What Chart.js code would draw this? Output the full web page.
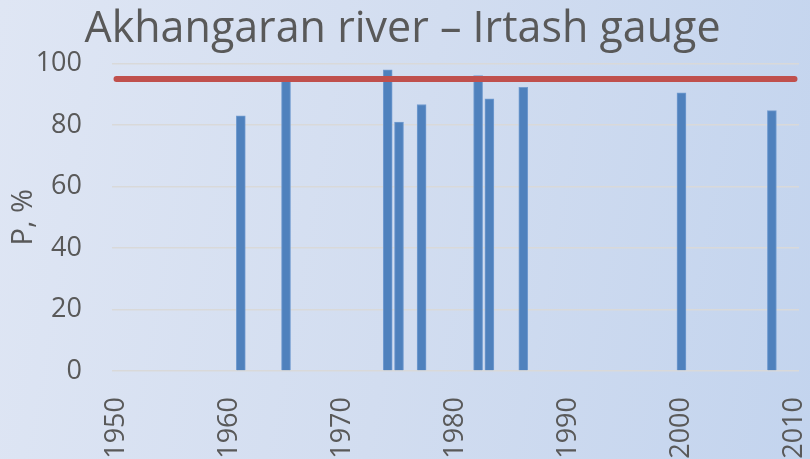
<!DOCTYPE html>
<html>
<head>
<meta charset="utf-8">
<script src="https://cdn.jsdelivr.net/npm/chart.js@4.4.1/dist/chart.umd.min.js"></script>
<style>
    html, body { margin: 0; padding: 0; }
    #box {
        width: 810px;
        height: 459px;
        background: linear-gradient(100deg, #dfe6f4 0%, #d2ddf0 50%, #c3d4ee 100%);
    }
</style>
</head>
<body>
<div id="box"><canvas id="chart"></canvas></div>
<script>
// data
const years = [1961, 1965, 1974, 1975, 1977, 1982, 1983, 1986, 2000, 2008];
const pValues = [83, 94.5, 98, 81, 86.7, 96.1, 88.5, 92.3, 90.5, 84.7];
const limitYears = [1950, 2010];
const limitValues = [95, 95];
const xTicks = [1950, 1960, 1970, 1980, 1990, 2000, 2010];
const yTicks = [0, 20, 40, 60, 80, 100];

const grey = "#595959";
const tickFont = { family: "Open Sans", size: 27 };

let chart = new Chart(document.getElementById("chart"), {
    type: "bar",
    data: {
        datasets: [{
            type: "line",
            label: "95%",
            data: limitYears.map((y, i) => ({ x: y, y: limitValues[i] })),
            borderColor: "#c0504d",
            borderWidth: 6,
            borderCapStyle: "round",
            pointRadius: 0,
            order: 0
        }, {
            type: "bar",
            label: "P",
            data: years.map((y, i) => ({ x: y, y: pValues[i] })),
            backgroundColor: "#4f81bd",
            borderColor: "#739cd0",
            borderWidth: 1,
            barThickness: 9,
            order: 1
        }]
    },
    options: {
        responsive: true,
        maintainAspectRatio: false,
        animation: false,
        layout: { padding: { left: 6, right: 11, top: 0, bottom: 0 } },
        plugins: {
            legend: { display: false },
            tooltip: { enabled: false },
            title: {
                display: true,
                text: "Akhangaran river – Irtash gauge",
                color: grey,
                font: { family: "Open Sans", size: 43, weight: "normal" },
                padding: { top: 4, bottom: 8 }
            }
        },
        scales: {
            x: {
                type: "linear",
                min: 1949.6,
                max: 2010.4,
                offset: false,
                grid: { display: false, offset: false },
                border: { display: false },
                afterBuildTicks: scale => {
                    scale.ticks = xTicks.map(v => ({ value: v }));
                },
                afterFit: scale => {
                    scale.height = 88;
                    scale.paddingLeft = 0;
                    scale.paddingRight = 0;
                },
                ticks: {
                    color: grey,
                    font: tickFont,
                    minRotation: 90,
                    maxRotation: 90,
                    padding: 18,
                    callback: v => String(v)
                }
            },
            y: {
                min: 0,
                max: 100,
                afterBuildTicks: scale => {
                    scale.ticks = yTicks.map(v => ({ value: v }));
                },
                afterFit: scale => {
                    scale.width = 106;
                    scale.paddingTop = 0;
                    scale.paddingBottom = 0;
                },
                grid: { color: "#d9d9d9", lineWidth: 1.5, drawTicks: false },
                border: { display: false },
                title: {
                    display: true,
                    text: "P, %",
                    color: grey,
                    font: { family: "Open Sans", size: 29 },
                    padding: 0
                },
                ticks: {
                    color: grey,
                    font: tickFont,
                    padding: 30
                }
            }
        }
    }
});
</script>
</body>
</html>
